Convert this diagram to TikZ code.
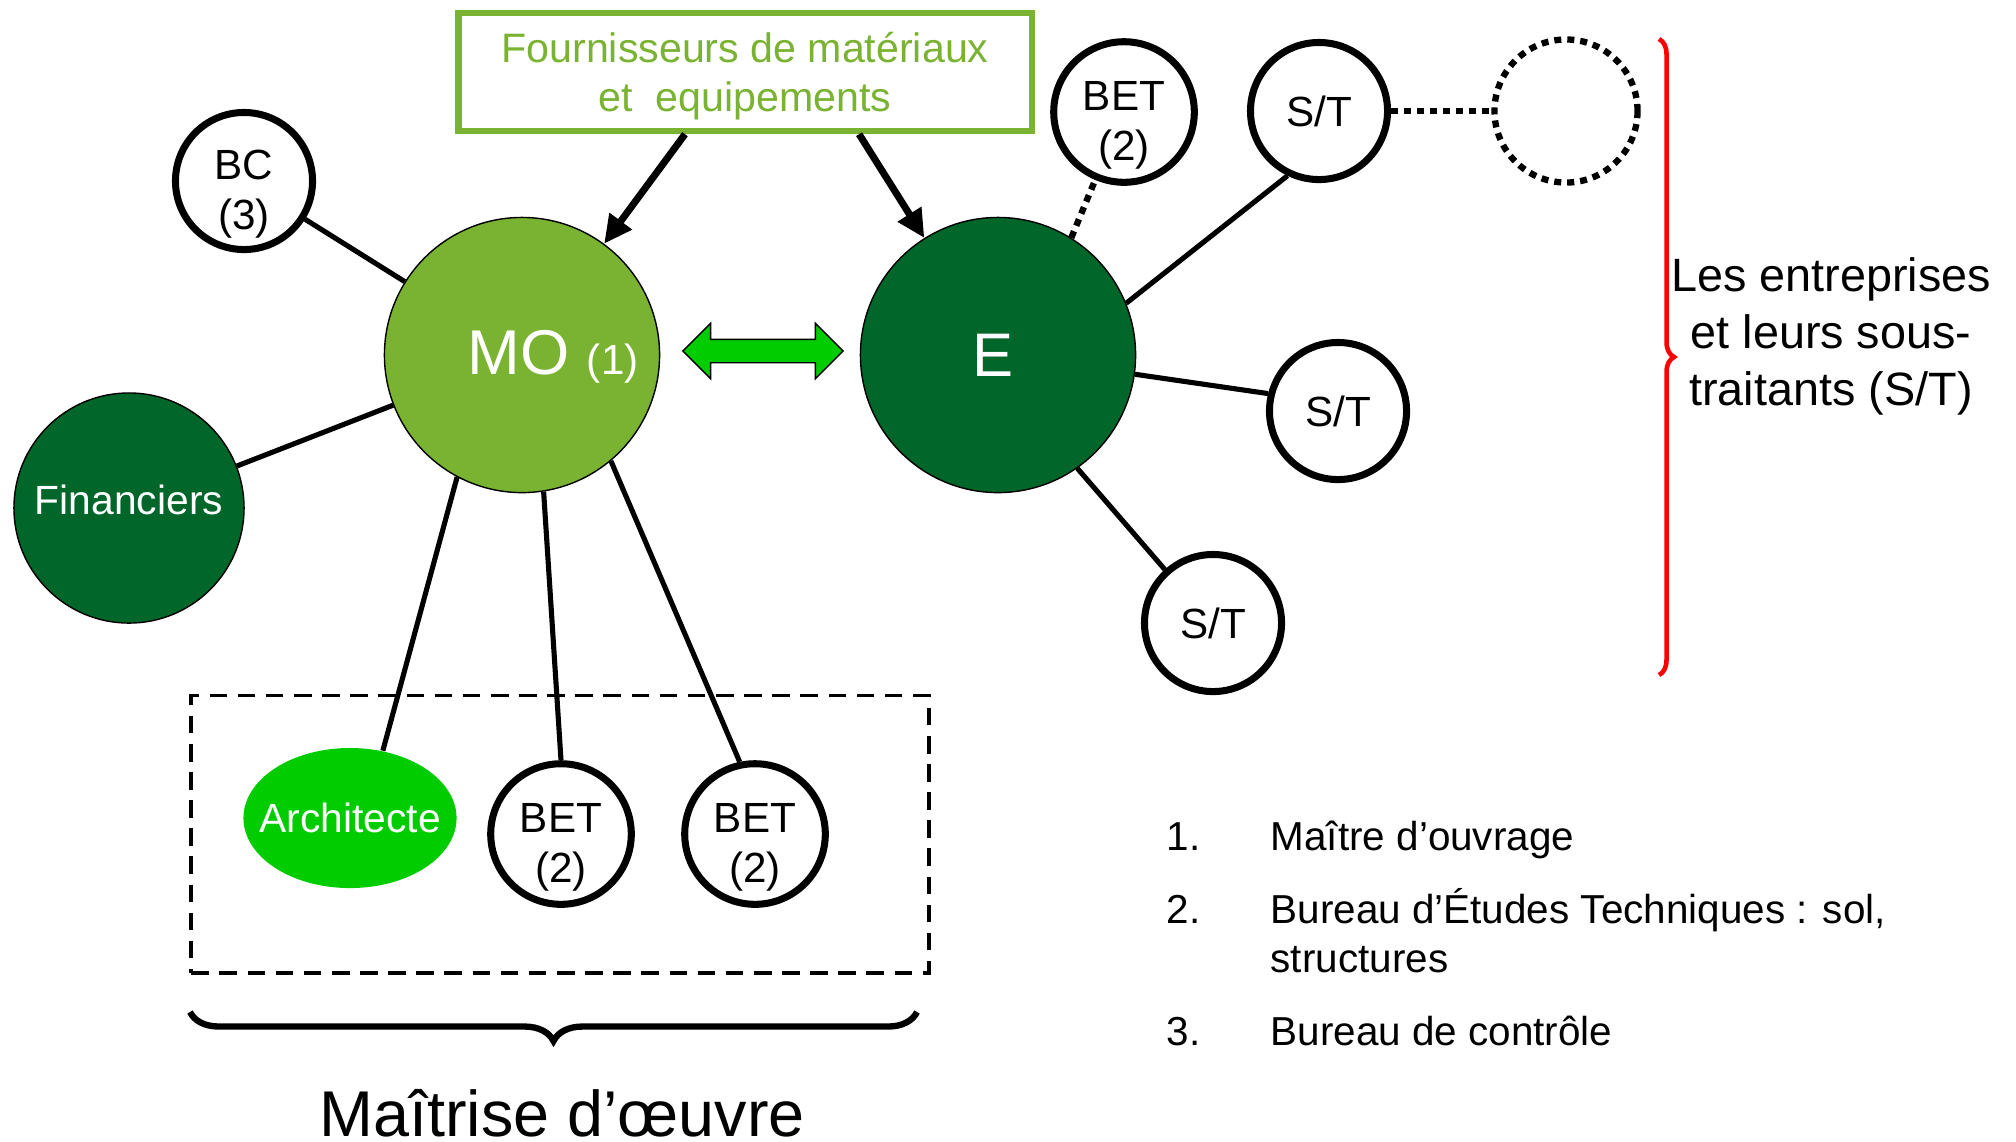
\documentclass[tikz,border=0pt]{standalone}
\usepackage{fontspec}
\setmainfont{Liberation Sans}
\usetikzlibrary{shapes.geometric,shapes.arrows,arrows.meta,decorations.pathreplacing}
\definecolor{mogreen}{HTML}{7AB332}
\definecolor{darkgreen}{HTML}{006629}
\definecolor{brightgreen}{HTML}{00CC00}

\begin{document}
\begin{tikzpicture}[x=0.01cm,y=-0.01cm,
  smallnode/.style={circle,draw,line width=2pt,minimum size=1.37cm,inner sep=0pt,
    align=center,font=\fontsize{12}{14.2}\selectfont},
  twoline/.style={text height=30pt},
  bignode/.style={circle,draw,line width=0.4pt,minimum size=2.75cm,inner sep=0pt,text=white},
  link/.style={line width=1.45pt},
  dotline/.style={line width=1.8pt,dash pattern=on 2pt off 1.7pt},
  listtext/.style={anchor=base west,inner sep=0pt,font=\fontsize{11.5}{13.9}\selectfont}]
  \useasboundingbox (0,0) rectangle (2016,1141);

  \node[draw=mogreen,line width=1.8pt,minimum width=5.73cm,minimum height=1.18cm,align=center,
    text=mogreen,text depth=0pt,font=\fontsize{11.7}{13.9}\selectfont] (fourn) at (745,72)
    {Fournisseurs de matériaux\\et\ \ equipements};

  \node[bignode,fill=mogreen] (mo) at (522,355) {};
  \node[text=white] (molabel) at (553,357) {\fontsize{18}{20}\selectfont MO \fontsize{12}{14}\selectfont(1)};
  \node[bignode,fill=darkgreen,font=\fontsize{17.5}{20}\selectfont] (e) at (998,355) {\hspace{-0.1cm}E};
  \node[bignode,fill=darkgreen,minimum size=2.3cm,text depth=5pt,font=\fontsize{11.6}{14}\selectfont] (fin) at (129,508) {Financiers};
  \node[smallnode,twoline] (bc) at (244,181) {BC\\(3)};

  \node[ellipse,fill=brightgreen,minimum width=2.13cm,minimum height=1.4cm,inner xsep=-4.4pt,inner ysep=0pt,
    text=white,font=\fontsize{11.6}{14}\selectfont] (arch) at (350,818) {Architecte};
  \node[smallnode,twoline] (bet1) at (561,834) {BET\\(2)};
  \node[smallnode,twoline] (bet2) at (755,834) {BET\\(2)};
  \node[draw,line width=1.1pt,dash pattern=on 5pt off 3pt,minimum width=7.37cm,minimum height=2.77cm] (moe) at (560,834) {};

  \node[smallnode,twoline] (bet3) at (1124,112) {BET\\(2)};
  \node[smallnode] (st1) at (1319,111) {S/T};
  \node[circle,dotline,draw,minimum size=1.43cm,inner sep=0pt] (nextst) at (1566,111) {};
  \node[smallnode] (st2) at (1338,411) {S/T};
  \node[smallnode] (st3) at (1213,623) {S/T};

  \node[double arrow,draw,fill=brightgreen,minimum height=1.6cm,inner xsep=0pt,inner ysep=0.11cm,
    double arrow head extend=0.16cm] (mo2e) at (763,351) {};

  \draw[link] (bc) -- (mo);
  \draw[link] (fin) -- (mo);
  \draw[link] (arch.64) -- (mo.242);
  \draw[link] (bet1.north) -- (mo.279);
  \draw[link] (bet2.102) -- (mo.310);
  \draw[link] (e.22) -- (st1.244);
  \draw[link] (e.352) -- (st2.166);
  \draw[link] (e.305) -- (st3.132);
  \draw[dotline] (e.58) -- (bet3.247);
  \draw[dotline] (st1) -- (nextst);
  \draw[line width=2pt,-{Triangle[length=8pt,width=7.5pt]}] ([xshift=-0.6cm]fourn.south) -- (mo);
  \draw[line width=2pt,-{Triangle[length=8pt,width=7.5pt]}] ([xshift=1.14cm]fourn.south) -- (e);

  \draw[red,line width=1.3pt,decorate,decoration={brace,amplitude=0.15cm}] (1659,39) -- (1659,675);
  \node[align=center,font=\fontsize{13.3}{16.2}\selectfont] (entr) at (1831,336)
    {Les entreprises\\et leurs sous-\\traitants (S/T)};

  \draw[line width=1.8pt,decorate,decoration={brace,mirror,amplitude=0.29cm}] (190,1012) -- (917,1012);
  \node[inner sep=0pt,font=\fontsize{18.4}{22}\selectfont] (moetitle) at (562,1113) {Maîtrise d’œuvre};

  \foreach \n/\y in {1/850,2/923,3/1045}
    \node[listtext] (num\n) at (1166,\y) {\n.};
  \node[listtext] (item1) at (1270,850) {Maître d’ouvrage};
  \node[listtext,align=left] (item2) at (1270,972) {Bureau d’Études Techniques : sol,\\structures};
  \node[listtext] (item3) at (1270,1045) {Bureau de contrôle};
\end{tikzpicture}
\end{document}
